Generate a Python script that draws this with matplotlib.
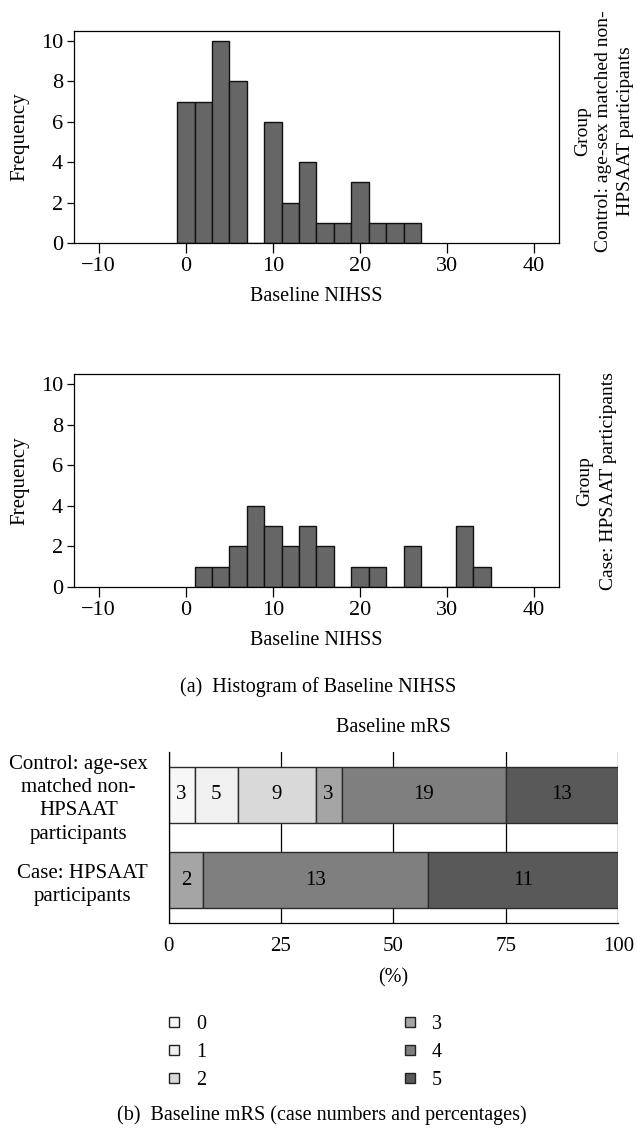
import numpy as np
import matplotlib
matplotlib.use("Agg")
import matplotlib.pyplot as plt
from matplotlib.lines import Line2D

plt.rcParams['font.family'] = ['Liberation Serif', 'DejaVu Serif']
plt.rcParams['axes.linewidth'] = 0.9

# histogram of baseline NIHSS, bins of width 2
control_edges = [-1, 1, 3, 5, 7, 9, 11, 13, 15, 17, 19, 21, 23, 25]
control_counts = [7, 7, 10, 8, 0, 6, 2, 4, 1, 1, 3, 1, 1, 1]
case_edges = [1, 3, 5, 7, 9, 11, 13, 15, 17, 19, 21, 23, 25, 27, 29, 31, 33]
case_counts = [1, 1, 2, 4, 3, 2, 3, 2, 0, 1, 1, 0, 2, 0, 0, 3, 1]
hist_xticks = [-10, 0, 10, 20, 30, 40]
hist_yticks = [0, 2, 4, 6, 8, 10]

# baseline mRS, case numbers per score
groups = ["Control: age-sex\nmatched non-\nHPSAAT\nparticipants",
          "Case: HPSAAT\nparticipants"]
mrs_scores = ["0", "1", "2", "3", "4", "5"]
control_mrs = [3, 5, 9, 3, 19, 13]
case_mrs = [0, 0, 0, 2, 13, 11]
mrs_colors = ["#f7f7f7", "#eff0ef", "#d9d9d9", "#a5a5a5", "#7f7f7f", "#595959"]

W, H = 637, 1128
fig = plt.figure(figsize=(W / 100, H / 100), dpi=100)

def px(x, y):
    return x / W, 1 - y / H

def hist_panel(top, bottom, edges, counts, group_text, gx, gy, ls):
    ax = fig.add_axes([74.3 / W, 1 - bottom / H, (558.6 - 74.3) / W, (bottom - top) / H])
    ax.bar(edges, counts, width=2, align='edge', color="#666666",
           edgecolor="#111111", linewidth=1.0)
    ax.set_xlim(-12.8, 42.8)
    ax.set_ylim(0, 10.5)
    ax.set_xticks(hist_xticks)
    ax.set_xticklabels(["\u221210" if t < 0 else str(t) for t in hist_xticks])
    ax.set_yticks(hist_yticks)
    ax.tick_params(axis='x', length=7, width=0.9, pad=3, labelsize=16)
    ax.tick_params(axis='y', length=5, width=0.9, pad=3, labelsize=16)
    ax.set_xlabel("Baseline NIHSS", fontsize=14.5, labelpad=8)
    ax.set_ylabel("Frequency", fontsize=15, labelpad=8)
    x, y = px(gx, gy)
    fig.text(x, y, group_text, rotation=90, ha='center', va='center',
             multialignment='center', fontsize=14, linespacing=ls)
    return ax

hist_panel(31, 243, control_edges, control_counts,
           "Group\nControl: age-sex matched non-\nHPSAAT participants", 604, 131, 1.35)
hist_panel(374, 587, case_edges, case_counts,
           "Group\nCase: HPSAAT participants", 597, 481, 1.5)

x, y = px(318, 687)
fig.text(x, y, "(a)  Histogram of Baseline NIHSS", ha='center', va='center', fontsize=14.5)

# stacked percentage bar chart
ax3 = fig.add_axes([168.6 / W, 1 - 923 / H, (618.3 - 168.6) / W, (923 - 752) / H])
data = np.array([control_mrs, case_mrs], dtype=float)
pct = data / data.sum(axis=1, keepdims=True) * 100
left = np.zeros(2)
ypos = [1, 0]
for i in range(len(mrs_scores)):
    bars = ax3.barh(ypos, pct[:, i], left=left, height=0.65, color=mrs_colors[i],
                    edgecolor="#2b2b2b", linewidth=1.0, label=mrs_scores[i])
    labels = [str(int(v)) if v > 0 else "" for v in data[:, i]]
    ax3.bar_label(bars, labels=labels, label_type='center', fontsize=15)
    left += pct[:, i]
ax3.set_xlim(0, 100)
ax3.set_ylim(-0.5, 1.5)
ax3.set_xticks([0, 25, 50, 75, 100])
ax3.set_yticks(ypos)
ax3.set_yticklabels(groups, multialignment='center', linespacing=1.3)
ax3.tick_params(axis='both', length=0, labelsize=15)
ax3.tick_params(axis='y', pad=15)
ax3.tick_params(axis='x', pad=10)
ax3.grid(axis='x', color='black', linewidth=0.9)
ax3.set_axisbelow(True)
ax3.spines['top'].set_visible(False)
ax3.spines['right'].set_visible(False)
ax3.set_xlabel("(%)", fontsize=14.5, labelpad=9)
x, y = px(393.5, 727)
fig.text(x, y, "Baseline mRS", ha='center', va='center', fontsize=14.5)

handles = [Line2D([], [], marker='s', linestyle='none', markersize=6.5,
                  markerfacecolor=c, markeredgecolor='#222222', markeredgewidth=1.0)
           for c in mrs_colors]
x, y = px(164, 1015)
fig.legend(handles, mrs_scores, loc='upper left', bbox_to_anchor=(x, y), ncol=2,
           frameon=False, fontsize=14.5, handlelength=1.0, handletextpad=0.6,
           columnspacing=9.6, labelspacing=0.45, borderpad=0, borderaxespad=0)

x, y = px(322, 1115)
fig.text(x, y, "(b)  Baseline mRS (case numbers and percentages)",
         ha='center', va='center', fontsize=14.5)

fig.savefig("out.png", dpi=100)
